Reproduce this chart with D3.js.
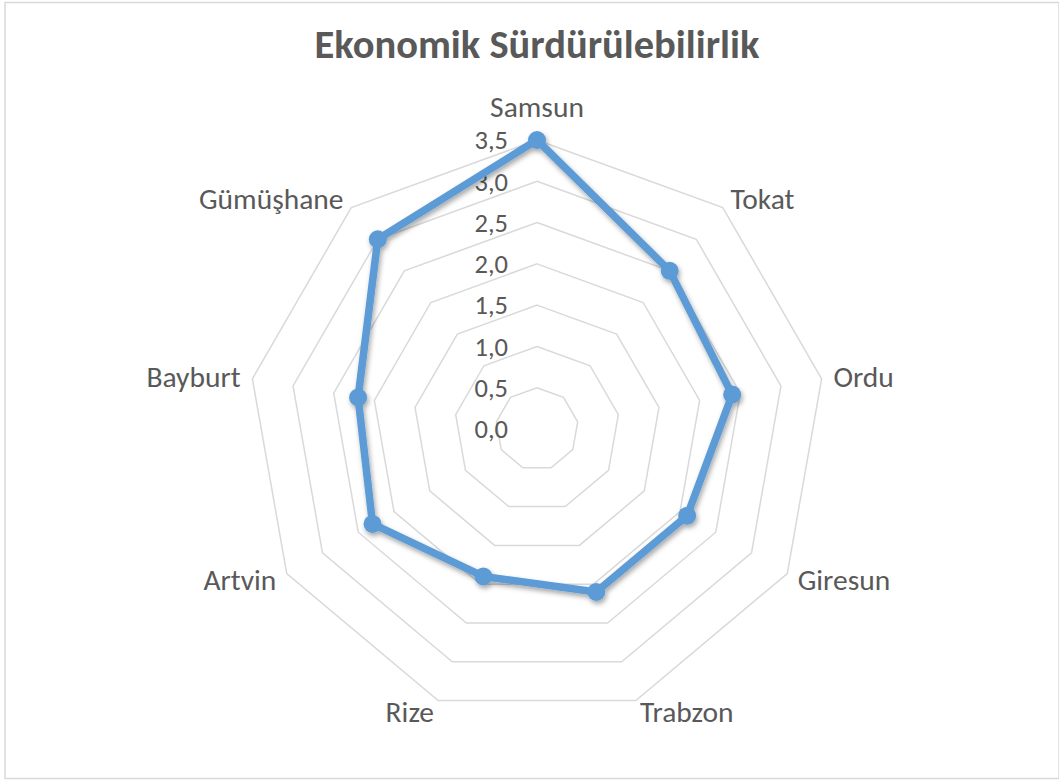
<!DOCTYPE html>
<html>
<head>
<meta charset="utf-8">
<script src="https://cdn.jsdelivr.net/npm/d3@7"></script>
<style>
  body { margin: 0; background: #fff; }
  text { font-family: Carlito, Calibri, Lato, sans-serif; fill: #595959; }
</style>
</head>
<body>
<svg width="1059" height="780"></svg>
<script>
// Chart data
const categories = ['Samsun', 'Tokat', 'Ordu', 'Giresun', 'Trabzon', 'Rize', 'Artvin', 'Bayburt', 'Gümüşhane'];
const values = [3.5, 2.5, 2.4, 2.1, 2.1, 1.9, 2.3, 2.2, 3.0];
const tickValues = [0, 0.5, 1, 1.5, 2, 2.5, 3, 3.5];
const tickLabels = ['0,0', '0,5', '1,0', '1,5', '2,0', '2,5', '3,0', '3,5'];

const svg = d3.select('svg');
const width = +svg.attr('width');
const height = +svg.attr('height');
const cx = 537;
const cy = 429;
const radius = 289;

// Drop shadow for the series
const defs = svg.append('defs');
defs.append('filter')
  .attr('id', 'shadow')
  .attr('x', '-20%').attr('y', '-20%')
  .attr('width', '140%').attr('height', '140%')
  .append('feDropShadow')
  .attr('dx', 1.5).attr('dy', 3)
  .attr('stdDeviation', 2.5)
  .attr('flood-color', '#000')
  .attr('flood-opacity', 0.35);

// Chart border
svg.append('rect')
  .attr('x', 5).attr('y', 2.5)
  .attr('width', width - 5).attr('height', height - 4)
  .attr('fill', 'none')
  .attr('stroke', '#d9d9d9')
  .attr('stroke-width', 1.5);

// Title
svg.append('text')
  .attr('x', 537)
  .attr('y', 58)
  .attr('text-anchor', 'middle')
  .attr('font-size', '40.5px')
  .attr('font-weight', 'bold')
  .text('Ekonomik Sürdürülebilirlik');

const rScale = d3.scaleLinear().domain([0, 3.5]).range([0, radius]);
const angle = d3.scaleLinear().domain([0, categories.length]).range([0, 2 * Math.PI]);

const g = svg.append('g').attr('transform', `translate(${cx},${cy})`);

// Grid rings
const ringLine = d3.lineRadial().curve(d3.curveLinearClosed);
g.selectAll('.ring')
  .data(tickValues.filter((t) => t > 0))
  .enter()
  .append('path')
  .attr('class', 'ring')
  .attr('d', (t) => ringLine(categories.map((c, i) => [angle(i), rScale(t)])))
  .attr('fill', 'none')
  .attr('stroke', '#d9d9d9')
  .attr('stroke-width', 1.5);

// Value axis labels
g.selectAll('.tick-label')
  .data(tickValues)
  .enter()
  .append('text')
  .attr('class', 'tick-label')
  .attr('x', -29)
  .attr('y', (t) => -rScale(t))
  .attr('dy', '0.35em')
  .attr('text-anchor', 'end')
  .attr('font-size', '26.5px')
  .text((t, i) => tickLabels[i]);

// Category labels
g.selectAll('.cat-label')
  .data(categories)
  .enter()
  .append('text')
  .attr('class', 'cat-label')
  .attr('x', (c, i) => (radius + 12) * Math.sin(angle(i)))
  .attr('y', (c, i) => {
    const y = -(radius + 12) * Math.cos(angle(i));
    return Math.abs(Math.sin(angle(i))) < 0.1 ? y - 21 : y;
  })
  .attr('dy', '0.35em')
  .attr('text-anchor', (c, i) => {
    const s = Math.sin(angle(i));
    if (s > 0.1) return 'start';
    if (s < -0.1) return 'end';
    return 'middle';
  })
  .attr('font-size', '29.5px')
  .text((c) => c);

// Series
const series = g.append('g').attr('filter', 'url(#shadow)');
series.append('path')
  .attr('d', ringLine(values.map((v, i) => [angle(i), rScale(v)])))
  .attr('fill', 'none')
  .attr('stroke', '#5b9bd5')
  .attr('stroke-width', 7.5)
  .attr('stroke-linejoin', 'round');

series.selectAll('.dot')
  .data(values)
  .enter()
  .append('circle')
  .attr('class', 'dot')
  .attr('cx', (v, i) => rScale(v) * Math.sin(angle(i)))
  .attr('cy', (v, i) => -rScale(v) * Math.cos(angle(i)))
  .attr('r', 9)
  .attr('fill', '#5b9bd5');
</script>
</body>
</html>
